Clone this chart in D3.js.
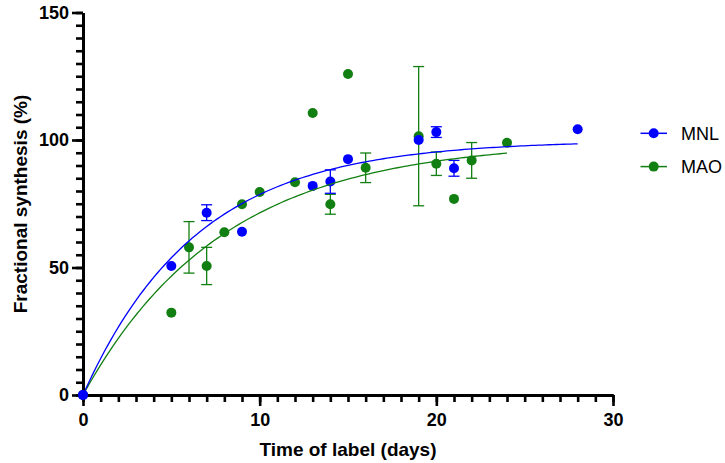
<!DOCTYPE html>
<html>
<head>
<meta charset="utf-8">
<script src="https://cdn.jsdelivr.net/npm/d3@7"></script>
<style>
  body { margin: 0; background: #fff; }
  svg { display: block; font-family: Arial, "Liberation Sans", Helvetica, sans-serif; }
</style>
</head>
<body>
<svg id="chart" width="725" height="463"></svg>
<script>
// MNL series (blue)
var mnlDays = [0, 5, 7, 9, 13, 14, 15, 19, 20, 21, 28];
var mnlMean = [0, 50.6, 71.5, 64, 82, 83.7, 92.5, 100, 103.1, 88.9, 104.2];
var mnlErr  = [0, 0, 3.1, 0, 0, 4.6, 0, 0, 2.1, 3.1, 0];

// MAO series (green)
var maoDays = [0, 5, 6, 7, 8, 9, 10, 12, 13, 14, 15, 16, 19, 20, 21, 22, 24];
var maoMean = [0, 32.3, 57.9, 50.6, 63.8, 74.8, 79.6, 83.4, 110.6, 74.8, 125.9, 89.1, 101.5, 90.7, 76.9, 92.0, 98.9];
var maoErr  = [0, 0, 10.1, 7.3, 0, 0, 0, 0, 0, 3.9, 0, 5.8, 27.3, 4.6, 0, 7.0, 0];

// one-phase association fits: [Ymax, k, last day]
var mnlFit = [99.8, 0.155, 28];
var maoFit = [99.7, 0.126, 24];

var xTicks = [0, 10, 20, 30];
var yTicks = [0, 50, 100, 150];

var blue = '#0000ff';
var green = '#117f11';

var svg = d3.select('#chart');

var x = d3.scaleLinear().domain([0, 30]).range([83, 613]);
var y = d3.scaleLinear().domain([0, 150]).range([395, 12.5]);

function series(days, mean, err) {
    return days.map(function(d, i){ return {x: d, y: mean[i], e: err[i]}; });
}

function fitCurve(p) {
    var pts = [];
    for (var t = 0; t <= p[2] + 1e-9; t += 0.2) {
        pts.push([t, p[0] * (1 - Math.exp(-p[1] * t))]);
    }
    return pts;
}

var line = d3.line()
    .x(function(d){ return x(d[0]); })
    .y(function(d){ return y(d[1]); });

function drawPoints(data, color) {
    var g = svg.append('g');
    var withErr = data.filter(function(d){ return d.e > 0; });
    g.selectAll('line.bar').data(withErr).enter().append('line')
        .attr('x1', function(d){ return x(d.x); })
        .attr('x2', function(d){ return x(d.x); })
        .attr('y1', function(d){ return y(d.y - d.e); })
        .attr('y2', function(d){ return y(d.y + d.e); })
        .attr('stroke', color).attr('stroke-width', 1.3);
    [-1, 1].forEach(function(s){
        g.selectAll('line.cap' + s).data(withErr).enter().append('line')
            .attr('x1', function(d){ return x(d.x) - 5.5; })
            .attr('x2', function(d){ return x(d.x) + 5.5; })
            .attr('y1', function(d){ return y(d.y + s * d.e); })
            .attr('y2', function(d){ return y(d.y + s * d.e); })
            .attr('stroke', color).attr('stroke-width', 1.3);
    });
    g.selectAll('circle').data(data).enter().append('circle')
        .attr('cx', function(d){ return x(d.x); })
        .attr('cy', function(d){ return y(d.y); })
        .attr('r', 5)
        .attr('fill', color);
}

drawPoints(series(maoDays, maoMean, maoErr), green);
drawPoints(series(mnlDays, mnlMean, mnlErr), blue);

svg.append('path').datum(fitCurve(maoFit))
    .attr('d', line).attr('fill', 'none')
    .attr('stroke', green).attr('stroke-width', 1.3);
svg.append('path').datum(fitCurve(mnlFit))
    .attr('d', line).attr('fill', 'none')
    .attr('stroke', blue).attr('stroke-width', 1.3);

// axes: minor ticks first, then major with labels
var xMinor = svg.append('g').attr('transform', 'translate(0,395)')
    .call(d3.axisBottom(x).tickValues(d3.range(0, 31)).tickSize(7).tickSizeOuter(0).tickFormat(''));
var xMajor = svg.append('g').attr('transform', 'translate(0,395)')
    .call(d3.axisBottom(x).tickValues(xTicks).tickSize(11).tickSizeOuter(0).tickPadding(7).tickFormat(d3.format('d')));
var yMinor = svg.append('g').attr('transform', 'translate(83,0)')
    .call(d3.axisLeft(y).tickValues(d3.range(0, 151, 5)).tickSize(7).tickSizeOuter(0).tickFormat(''));
var yMajor = svg.append('g').attr('transform', 'translate(83,0)')
    .call(d3.axisLeft(y).tickValues(yTicks).tickSize(11).tickSizeOuter(0).tickPadding(3).tickFormat(d3.format('d')));

[xMinor, xMajor, yMinor, yMajor].forEach(function(a){
    a.select('.domain').attr('stroke', '#000').attr('stroke-width', 3);
    a.selectAll('.tick line').attr('stroke', '#000').attr('stroke-width', 2.6);
    a.selectAll('.tick text')
        .attr('fill', '#000')
        .style('font-size', '18px')
        .style('font-weight', 'bold')
        .style('font-family', 'Arial, "Liberation Sans", Helvetica, sans-serif');
});

// re-draw origin points on top of axes
svg.append('circle').attr('cx', x(0)).attr('cy', y(0)).attr('r', 5).attr('fill', blue);

svg.append('text')
    .attr('x', 348).attr('y', 456)
    .attr('text-anchor', 'middle')
    .style('font-size', '19px').style('font-weight', 'bold')
    .text('Time of label (days)');

svg.append('text')
    .attr('transform', 'translate(27,204) rotate(-90)')
    .attr('text-anchor', 'middle')
    .style('font-size', '19px').style('font-weight', 'bold')
    .text('Fractional synthesis (%)');

// legend
var legend = [['MNL', blue], ['MAO', green]];
var lg = svg.selectAll('g.legend').data(legend).enter().append('g')
    .attr('class', 'legend')
    .attr('transform', function(d, i){ return 'translate(0,' + (133.3 + i * 33.3) + ')'; });
lg.append('line')
    .attr('x1', 640.5).attr('x2', 667)
    .attr('stroke', function(d){ return d[1]; }).attr('stroke-width', 1.5);
lg.append('circle')
    .attr('cx', 653.7).attr('r', 5)
    .attr('fill', function(d){ return d[1]; });
lg.append('text')
    .attr('x', 681).attr('y', 6.5)
    .style('font-size', '18px')
    .text(function(d){ return d[0]; });
</script>
</body>
</html>
